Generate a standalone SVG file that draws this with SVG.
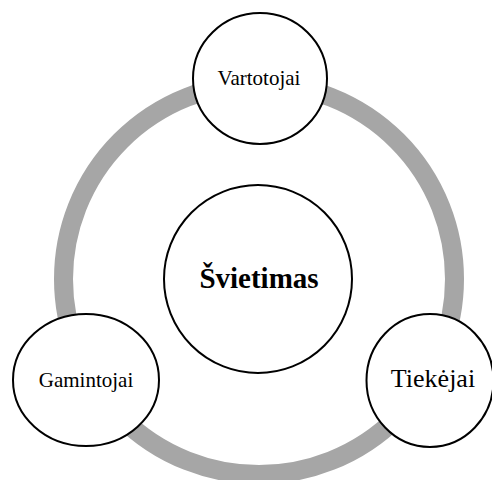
<svg xmlns="http://www.w3.org/2000/svg" width="492" height="480" viewBox="0 0 492 480">
<style>
.node{fill:#fff;stroke:#000;stroke-width:2}
.lbl{font-family:"Liberation Serif","Times New Roman",serif;fill:#000;text-anchor:middle}
</style>
<rect width="492" height="480" fill="#fff"/>
<g id="connectors">
<circle cx="259" cy="279" r="195.5" fill="none" stroke="#a6a6a6" stroke-width="19"/>
</g>
<g id="svietimas">
<circle class="node" cx="258" cy="279" r="94"/>
<text class="lbl" x="259" y="288" font-size="29" font-weight="bold">Švietimas</text>
</g>
<g id="vartotojai">
<ellipse class="node" cx="260" cy="78.5" rx="67" ry="65.5"/>
<text class="lbl" x="259" y="85" font-size="21">Vartotojai</text>
</g>
<g id="gamintojai">
<ellipse class="node" cx="86" cy="380" rx="73" ry="66"/>
<text class="lbl" x="86" y="387" font-size="21">Gamintojai</text>
</g>
<g id="tiekejai">
<ellipse class="node" cx="430" cy="380.5" rx="63.5" ry="66.5"/>
<text class="lbl" x="433" y="387" font-size="26">Tiekėjai</text>
</g>
</svg>
